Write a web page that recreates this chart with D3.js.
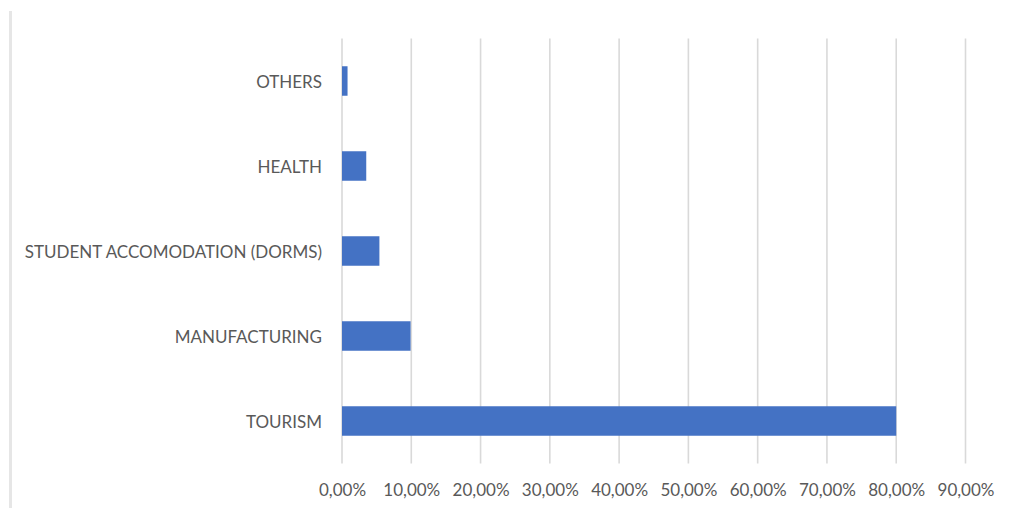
<!DOCTYPE html>
<html>
<head>
<meta charset="utf-8">
<script src="https://cdn.jsdelivr.net/npm/d3@7"></script>
<style>
  html, body { margin: 0; padding: 0; background: #ffffff; }
  svg { display: block; }
</style>
</head>
<body>
<svg id="chart" width="1013" height="508"></svg>
<script>
const categories = ["OTHERS", "HEALTH", "STUDENT ACCOMODATION (DORMS)", "MANUFACTURING", "TOURISM"];
const values = [0.008, 0.035, 0.054, 0.099, 0.80];
const tickValues = [0, 0.1, 0.2, 0.3, 0.4, 0.5, 0.6, 0.7, 0.8, 0.9];
const tickLabels = ["0,00%", "10,00%", "20,00%", "30,00%", "40,00%", "50,00%", "60,00%", "70,00%", "80,00%", "90,00%"];

(function () {
const svg = d3.select("#chart");
const mLeft = 342, mRight = 965.5, mTop = 38.5, mBottom = 463.5;
const font = "Lato, 'Open Sans', sans-serif";
const textColor = "#595959";

// frame left edge
svg.append("line")
  .attr("x1", 10.5).attr("x2", 10.5).attr("y1", 11).attr("y2", 508)
  .attr("stroke", "#e6e6e6").attr("stroke-width", 3);

const x = d3.scaleLinear().domain([0, 0.9]).range([mLeft, mRight]);
const y = d3.scaleBand().domain(categories).range([mTop, mBottom]).paddingInner(0.653).paddingOuter(0.3265);

// gridlines
svg.append("g").selectAll("line").data(tickValues).join("line")
  .attr("x1", d => x(d)).attr("x2", d => x(d))
  .attr("y1", mTop).attr("y2", mBottom)
  .attr("stroke", "#d9d9d9").attr("stroke-width", 1.6);

// bars
svg.append("g").selectAll("rect").data(values).join("rect")
  .attr("x", x(0))
  .attr("y", (d, i) => y(categories[i]))
  .attr("width", d => x(d) - x(0))
  .attr("height", y.bandwidth())
  .attr("fill", "#4472c4");

// x axis labels
const xAxis = d3.axisBottom(x).tickValues(tickValues).tickSize(0).tickPadding(0)
  .tickFormat((d, i) => tickLabels[i]);
const gx = svg.append("g").attr("transform", `translate(0, ${mBottom + 20})`).call(xAxis);
gx.select(".domain").remove();
gx.selectAll("text").attr("font-family", font).attr("font-size", 17).attr("fill", textColor);

// y axis labels
const yAxis = d3.axisLeft(y).tickSize(0).tickPadding(20);
const gy = svg.append("g").attr("transform", `translate(${mLeft}, 2)`).call(yAxis);
gy.select(".domain").remove();
gy.selectAll("text").attr("font-family", font).attr("font-size", 17).attr("fill", textColor);
})();
</script>
</body>
</html>
